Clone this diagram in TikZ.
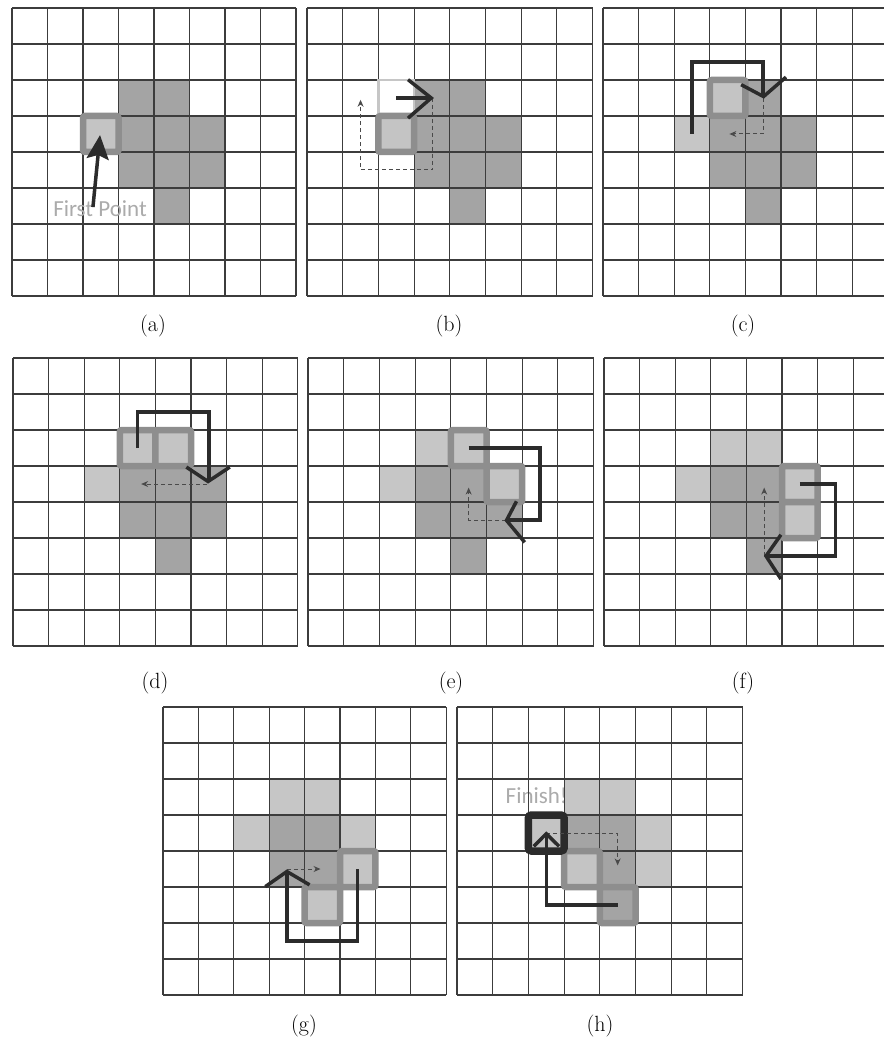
\documentclass[tikz,border=0pt]{standalone}
\usepackage{fontspec}
\newfontfamily\calib{Carlito}
\usetikzlibrary{arrows.meta}
\definecolor{gridc}{HTML}{3C3C3C}
\definecolor{darkc}{HTML}{A4A4A4}
\definecolor{lightc}{HTML}{C6C6C6}
\definecolor{hlborder}{HTML}{8E8E8E}
\definecolor{hlfill}{HTML}{C4C4C4}
\definecolor{pathc}{HTML}{2B2B2B}
\definecolor{dashc}{HTML}{4A4A4A}
\definecolor{textc}{HTML}{ABABAB}
\tikzset{
  gridline/.style={draw=gridc, line width=1.1pt},
  darkcell/.style={fill=darkc},
  lightcell/.style={fill=lightc},
  hlcell/.style={fill=hlfill, draw=hlborder, line width=6.5pt, rounded corners=2pt},
  hldark/.style={fill=darkc, draw=hlborder, line width=6.5pt, rounded corners=2pt},
  finishcell/.style={fill=hlfill, draw=pathc, line width=7.5pt, rounded corners=3pt},
  probecell/.style={draw=lightc, line width=2.5pt},
  tracepath/.style={draw=pathc, line width=3.5pt, line join=miter},
  probepath/.style={draw=dashc, line width=1pt, dash pattern=on 4pt off 3pt, -{Stealth[length=7pt,width=6pt]}},
  firstarrow/.style={draw=pathc, line width=3.5pt, -{Stealth[length=24pt,width=22pt,inset=4pt]}},
  captiontext/.style={font=\fontsize{22}{26}\selectfont, inner sep=0pt},
  hinttext/.style={font=\calib\fontsize{23}{27}\selectfont, text=textc, inner sep=0pt},
}
\newcommand\cellset[2]{\foreach \cx/\ry in {#2} {\fill[#1] (\cx,\ry) rectangle ++(1,1);}}
\newcommand\hlset[2]{\foreach \cx/\ry in {#2} {\filldraw[#1] (\cx,\ry) rectangle ++(1,1);}}
\newcommand\gridp{\foreach \gi in {0,...,8} {\draw[gridline] (\gi,0) -- (\gi,8); \draw[gridline] (0,\gi) -- (8,\gi);}}
\begin{document}
\begin{tikzpicture}[x=1pt,y=-1pt]
\useasboundingbox[fill=white] (0,0) rectangle (883,1043);

% ---------- (a)
\begin{scope}[shift={(12,8)}, x=35.5pt, y=-36pt]
  \cellset{darkcell}{3/2,4/2,3/3,4/3,5/3,3/4,4/4,5/4,4/5}
  \gridp
  \hlset{hlcell}{2/3}
  \node[hinttext, anchor=base] (fp) at (2.48,5.78) {First Point};
  \coordinate (fa) at (2.28,5.53);
  \coordinate (fb) at (2.48,3.53);
  \draw[firstarrow] (fa) -- (fb);
\end{scope}
\node[captiontext] (la) at (153,326) {(a)};

% ---------- (b)
\begin{scope}[shift={(307,8)}, x=35.7pt, y=-36pt]
  \cellset{darkcell}{3/2,4/2,3/3,4/3,5/3,3/4,4/4,5/4,4/5}
  \gridp
  \draw[probecell] (2,2) rectangle (3,3);
  \hlset{hlcell}{2/3}
  \draw[probepath] (3.52,2.5) -- (3.52,4.5) -- (1.5,4.5) -- (1.5,2.55);
  \draw[tracepath] (2.5,2.5) -- (3.45,2.5);
  \draw[tracepath] (2.83,1.99) -- (3.48,2.5) -- (2.83,3.06);
\end{scope}
\node[captiontext] (lb) at (449,326) {(b)};

% ---------- (c)
\begin{scope}[shift={(603,8)}, x=35.6pt, y=-36pt]
  \cellset{lightcell}{2/3}
  \cellset{darkcell}{4/2,3/3,4/3,5/3,3/4,4/4,5/4,4/5}
  \gridp
  \hlset{hlcell}{3/2}
  \draw[probepath] (4.5,2.5) -- (4.5,3.5) -- (3.55,3.5);
  \draw[tracepath] (2.5,3.5) -- (2.5,1.5) -- (4.5,1.5) -- (4.5,2.42);
  \draw[tracepath] (3.88,2.13) -- (4.51,2.46) -- (5.14,1.92);
\end{scope}
\node[captiontext] (lc) at (743,326) {(c)};

% ---------- (d)
\begin{scope}[shift={(13,358)}, x=35.6pt, y=-36pt]
  \cellset{lightcell}{2/3}
  \cellset{darkcell}{3/3,4/3,5/3,3/4,4/4,5/4,4/5}
  \gridp
  \hlset{hlcell}{3/2,4/2}
  \draw[probepath] (5.45,3.5) -- (3.6,3.5);
  \draw[tracepath] (3.5,2.5) -- (3.5,1.5) -- (5.5,1.5) -- (5.5,3.4);
  \draw[tracepath] (4.87,3.03) -- (5.48,3.43) -- (6.09,3.03);
\end{scope}
\node[captiontext] (ld) at (155,683) {(d)};

% ---------- (e)
\begin{scope}[shift={(308,358)}, x=35.7pt, y=-36pt]
  \cellset{lightcell}{2/3,3/2}
  \cellset{darkcell}{3/3,4/3,3/4,4/4,5/4,4/5}
  \gridp
  \hlset{hlcell}{4/2,5/3}
  \draw[probepath] (5.55,4.5) -- (4.5,4.5) -- (4.5,3.6);
  \draw[tracepath] (4.5,2.5) -- (6.5,2.5) -- (6.5,4.5) -- (5.6,4.5);
  \draw[tracepath] (5.84,3.98) -- (5.56,4.51) -- (6.07,5.12);
\end{scope}
\node[captiontext] (le) at (451,683) {(e)};

% ---------- (f)
\begin{scope}[shift={(604,358)}, x=35.6pt, y=-36pt]
  \cellset{lightcell}{2/3,3/2,4/2}
  \cellset{darkcell}{3/3,4/3,3/4,4/4,4/5}
  \gridp
  \hlset{hlcell}{5/3,5/4}
  \draw[probepath] (4.5,5.5) -- (4.5,3.6);
  \draw[tracepath] (5.5,3.5) -- (6.5,3.5) -- (6.5,5.5) -- (4.6,5.5);
  \draw[tracepath] (4.97,4.91) -- (4.55,5.5) -- (4.97,6.14);
\end{scope}
\node[captiontext] (lf) at (743,683) {(f)};

% ---------- (g)
\begin{scope}[shift={(163,707)}, x=35.4pt, y=-36pt]
  \cellset{lightcell}{2/3,3/2,4/2,5/3}
  \cellset{darkcell}{3/3,4/3,3/4,4/4}
  \gridp
  \hlset{hlcell}{5/4,4/5}
  \draw[probepath] (3.5,4.5) -- (4.45,4.5);
  \draw[tracepath] (5.5,4.5) -- (5.5,6.5) -- (3.5,6.5) -- (3.5,4.62);
  \draw[tracepath] (2.89,4.99) -- (3.5,4.57) -- (4.14,4.94);
\end{scope}
\node[captiontext] (lg) at (304,1026) {(g)};

% ---------- (h)
\begin{scope}[shift={(457,707)}, x=35.7pt, y=-36pt]
  \node[hinttext, anchor=base] (fin) at (2.23,2.67) {Finish!};
  \cellset{lightcell}{3/2,4/2,5/3,5/4}
  \cellset{darkcell}{3/3,4/3,4/4}
  \gridp
  \hlset{hlcell}{3/4}
  \hlset{hldark}{4/5}
  \hlset{finishcell}{2/3}
  \draw[probepath] (2.5,3.5) -- (4.5,3.5) -- (4.5,4.4);
  \draw[tracepath] (4.5,5.5) -- (2.5,5.5) -- (2.5,3.55);
  \draw[tracepath] (2.15,3.87) -- (2.5,3.52) -- (2.86,3.87);
\end{scope}
\node[captiontext] (lh) at (600,1026) {(h)};
\end{tikzpicture}
\end{document}
